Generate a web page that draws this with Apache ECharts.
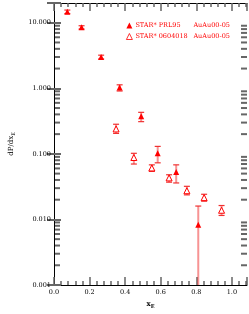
<!DOCTYPE html>
<html><head><meta charset="utf-8">
<script src="https://cdn.jsdelivr.net/npm/echarts@6/dist/echarts.min.js"></script>
<style>html,body{margin:0;padding:0;background:#fff}#c{width:249px;height:314px}</style>
</head><body><div id="c"></div>
<script>
// ---- data ----
var xPRL = [0.075, 0.155, 0.265, 0.369, 0.49, 0.583, 0.687, 0.811];
var yPRL = [14.7, 8.5, 3.0, 1.03, 0.375, 0.102, 0.053, 0.0083];
var loPRL = [13.8, 8.0, 2.8, 0.91, 0.31, 0.073, 0.036, 0];
var hiPRL = [15.6, 9.0, 3.2, 1.13, 0.43, 0.13, 0.068, 0.016];

var xOpen = [0.349, 0.449, 0.55, 0.647, 0.747, 0.844, 0.942];
var yOpen = [0.24, 0.088, 0.061, 0.043, 0.0274, 0.0215, 0.0138];
var loOpen = [0.205, 0.070, 0.054, 0.037, 0.0237, 0.019, 0.0115];
var hiOpen = [0.283, 0.102, 0.068, 0.048, 0.032, 0.0242, 0.0163];

var legendNames = ['STAR* PRL95', 'STAR* 0604018'];
var legendTags = ['AuAu00-05', 'AuAu00-05'];
var yDecades = [0.001, 0.01, 0.1, 1, 10];

var X_MIN = 0, X_MAX = 1.085, Y_MIN = 0.001, Y_MAX = 20;
var RED = '#ff0000';
var FONT = 'DejaVu Serif';
var TICK = '#666';

// minor log ticks (2..9 per decade)
var yMinor = [];
yDecades.forEach(function (d) {
  for (var m = 2; m <= 9; m++) { var v = m * d; if (v < Y_MAX) yMinor.push(v); }
});

function zip(xs, ys) { return xs.map(function (x, i) { return [x, ys[i]]; }); }
function errData(xs, lo, hi) { return xs.map(function (x, i) { return [x, lo[i], hi[i]]; }); }

function errRender(params, api) {
  var x = api.value(0), lo = api.value(1), hi = api.value(2);
  var hasLo = lo > Y_MIN;
  if (!hasLo) lo = Y_MIN;
  var pLo = api.coord([x, lo]), pHi = api.coord([x, hi]);
  var cap = 3;
  var children = [
    { type: 'line', shape: { x1: pLo[0], y1: pLo[1], x2: pHi[0], y2: pHi[1] }, style: { stroke: 'rgba(240,40,40,0.5)', lineWidth: 2 } },
    { type: 'line', shape: { x1: pHi[0] - cap, y1: pHi[1], x2: pHi[0] + cap, y2: pHi[1] }, style: { stroke: '#f03030', lineWidth: 1.2 } }
  ];
  if (hasLo) children.push({ type: 'line', shape: { x1: pLo[0] - cap, y1: pLo[1], x2: pLo[0] + cap, y2: pLo[1] }, style: { stroke: '#f03030', lineWidth: 1.2 } });
  return { type: 'group', children: children };
}

var chart = echarts.init(document.getElementById('c'));
function xAx(pos, extra) {
  return Object.assign({
    type: 'value', min: X_MIN, max: X_MAX, interval: 0.2, position: pos,
    axisLine: { show: true, lineStyle: { color: '#000', width: 1 } },
    axisTick: { show: true, inside: true, length: 8, lineStyle: { color: TICK, width: 1.5 } },
    minorTick: { show: true, splitNumber: 5, length: 4, lineStyle: { color: TICK, width: 1.5 } },
    splitLine: { show: false }, axisLabel: { show: false }
  }, extra || {});
}
function yAx(pos, extra) {
  return Object.assign({
    type: 'log', logBase: 10, min: Y_MIN, max: Y_MAX, position: pos,
    axisLine: { show: true, lineStyle: { color: '#000', width: 1 } },
    axisTick: { show: true, inside: true, length: 7, lineStyle: { color: TICK, width: 2 } },
    splitLine: { show: false }, axisLabel: { show: false }
  }, extra || {});
}
chart.setOption({
  animation: false,
  backgroundColor: '#fff',
  grid: { left: 48, right: 2, top: 3, bottom: 22 },
  xAxis: [
    xAx('bottom', {
      name: 'x{s|E}', nameLocation: 'middle', nameGap: 15,
      nameTextStyle: { fontFamily: FONT, fontSize: 7, fontWeight: 'bold', color: '#000', rich: { s: { fontFamily: FONT, fontSize: 5, fontWeight: 'bold', padding: [4, 0, 0, 0] } } },
      axisLabel: {
        show: true, fontFamily: FONT, fontSize: 6.5, color: '#000', margin: 4, showMaxLabel: false,
        formatter: function (v) { return v.toFixed(1); }
      }
    }),
    xAx('top')
  ],
  yAxis: [
    yAx('left', {
      name: 'dP/dx{s|E}', nameLocation: 'middle', nameGap: 38, nameRotate: 90,
      nameTextStyle: { fontFamily: FONT, fontSize: 7, color: '#000', rich: { s: { fontFamily: FONT, fontSize: 5, padding: [4, 0, 0, 0] } } },
      axisLabel: {
        show: true, fontFamily: FONT, fontSize: 6.5, color: '#000', margin: 3,
        formatter: function (v) {
          var l = Math.log10(v);
          if (Math.abs(l - Math.round(l)) > 1e-6) return '';
          return v.toFixed(3);
        }
      }
    }),
    yAx('right')
  ],
  legend: {
    orient: 'vertical', left: 121, top: 17, itemWidth: 6, itemHeight: 6, itemGap: 4,
    data: [{ name: legendNames[0] }, { name: legendNames[1], itemStyle: { borderWidth: 0.8 } }],
    formatter: function (n) { return '{a|' + n + '}{b|' + legendTags[legendNames.indexOf(n)] + '}'; },
    textStyle: { color: RED, fontFamily: FONT, fontSize: 6.5, padding: [0, 0, 0, -2],
      rich: { a: { width: 58, color: RED, fontFamily: FONT, fontSize: 6.5 }, b: { color: RED, fontFamily: FONT, fontSize: 6.5 } } }
  },
  series: [
    { type: 'custom', name: 'errPRL', data: errData(xPRL, loPRL, hiPRL), renderItem: errRender, clip: true, z: 2 },
    { type: 'custom', name: 'errOpen', data: errData(xOpen, loOpen, hiOpen), renderItem: errRender, clip: true, z: 2 },
    { type: 'scatter', name: legendNames[0], data: zip(xPRL, yPRL), symbol: 'triangle', symbolSize: 6,
      itemStyle: { color: RED, opacity: 1 }, z: 3 },
    { type: 'scatter', name: legendNames[1], data: zip(xOpen, yOpen), symbol: 'triangle', symbolSize: 6,
      itemStyle: { color: '#fff', borderColor: RED, borderWidth: 1, opacity: 1 }, z: 3 }
  ]
});

// minor log ticks on left and right frame edges, placed through the axis scale
var g = [];
yMinor.forEach(function (v) {
  var pl = chart.convertToPixel({ gridIndex: 0 }, [X_MIN, v]);
  var pr = chart.convertToPixel({ gridIndex: 0 }, [X_MAX, v]);
  g.push({ type: 'line', shape: { x1: pl[0], y1: pl[1], x2: pl[0] + 6, y2: pl[1] }, style: { stroke: TICK, lineWidth: 2 } });
  g.push({ type: 'line', shape: { x1: pr[0], y1: pr[1], x2: pr[0] - 6, y2: pr[1] }, style: { stroke: TICK, lineWidth: 2 } });
});
chart.setOption({ graphic: g });
</script></body></html>
